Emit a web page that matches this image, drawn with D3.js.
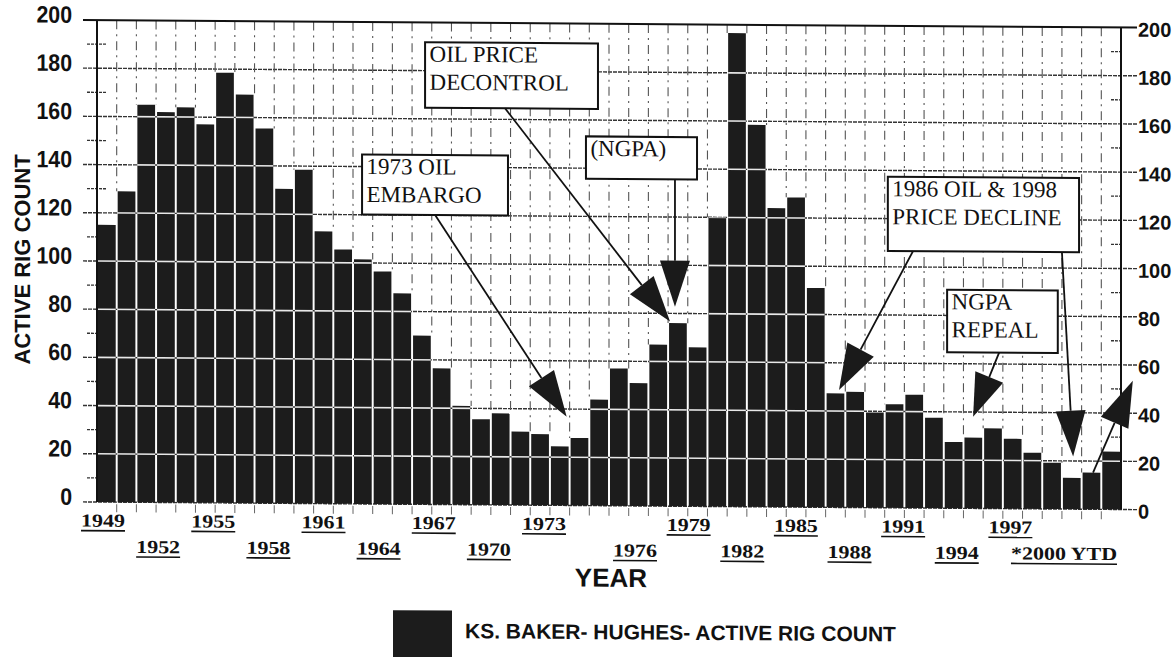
<!DOCTYPE html>
<html>
<head>
<meta charset="utf-8">
<title>KS Baker-Hughes Active Rig Count</title>
<script src="https://d3js.org/d3.v7.min.js"></script>
<style>
  body { margin: 0; background: #fff; }
  svg { display: block; }
  .lbl-left, .lbl-right, .axis-title, .legend-text {
    font-family: "Liberation Sans", Arial, sans-serif;
    font-weight: bold;
    fill: #111;
  }
  .lbl-left { font-size: 22px; }
  .lbl-right { font-size: 20px; }
  .year {
    font-family: "Liberation Serif", "Times New Roman", serif;
    font-weight: bold;
    font-size: 20px;
    fill: #111;
  }
  .note {
    font-family: "Liberation Serif", "Times New Roman", serif;
    font-size: 23px;
    fill: #111;
  }
</style>
</head>
<body>
<svg width="1175" height="657"></svg>
<script>
// data
var years = d3.range(1949, 2001);
var rigCount = [115, 129, 165, 162, 164, 157, 178.5, 169.5, 155.5, 130.5,
                138.5, 113, 105.5, 101.5, 96.5, 87.5, 70, 56.5, 41, 35.5,
                38, 30.5, 29.5, 24.5, 28, 44, 57, 51, 67, 76,
                66, 120, 196.5, 158.5, 124, 128.5, 91, 47.3, 48, 39.5,
                43, 47, 37.5, 27.5, 29.4, 33.3, 29, 23.3, 19.2, 13,
                15.2, 24];
var yTicks = [0, 20, 40, 60, 80, 100, 120, 140, 160, 180, 200];
var yMinor = [10, 30, 50, 70, 90, 110, 130, 150, 170, 190];
var labelYears = [1949, 1952, 1955, 1958, 1961, 1964, 1967, 1970, 1973,
                  1976, 1979, 1982, 1985, 1988, 1991, 1994, 1997, 2000];
var labelText = ["1949", "1952", "1955", "1958", "1961", "1964", "1967", "1970", "1973",
                 "1976", "1979", "1982", "1985", "1988", "1991", "1994", "1997", "*2000 YTD"];
var legendLabel = "KS. BAKER- HUGHES- ACTIVE RIG COUNT";

// callouts, in chart units (year, rig count)
var notes = [
  { x0: 1961.96, x1: 1969.37, top: 145, bottom: 120.1, lines: ["1973 OIL", "EMBARGO"],
    arrows: [[[1965.67, 120.1], [1972.35, 36.8]]] },
  { x0: 1965.16, x1: 1973.94, top: 191.8, bottom: 164.6, lines: ["OIL PRICE", "DECONTROL"],
    arrows: [[[1969.22, 164.6], [1977.6, 76.6]]] },
  { x0: 1973.33, x1: 1978.97, top: 153.2, bottom: 135.6, lines: ["(NGPA)"],
    arrows: [[[1977.85, 135.6], [1977.85, 82.8]]] },
  { x0: 1988.66, x1: 1998.37, top: 137.4, bottom: 106.6, lines: ["1986 OIL & 1998", "PRICE DECLINE"],
    arrows: [[[1989.94, 106.6], [1986.18, 48.7]], [[1997.5, 106.6], [1998.07, 21.8]]] },
  { x0: 1991.67, x1: 1997.29, top: 90.7, bottom: 64.7, lines: ["NGPA", "REPEAL"],
    arrows: [[[1994.31, 64.7], [1992.99, 38.0]]] }
];
var looseArrows = [[[1999.08, 15.2], [2001.1, 53.5]]];

var svg = d3.select("svg");
// the scan is slightly sheared; follow it
var g = svg.append("g").attr("transform", "matrix(1,0.00733,0,1,0,-0.71)");

var left = 97, right = 1121;
var x = d3.scaleBand().domain(years).range([left, right]).paddingInner(0.1).paddingOuter(0.05);
var xs = d3.scaleLinear().domain([1948.5, 2000.5]).range([left, right]);
var y = d3.scaleLinear().domain([0, 200]).range([502, 20]);
var xl = d3.scaleLinear().domain([1949, 1973, 1976, 2000]).range([103, 544, 635, 1064]);

// horizontal grid (dark over paper)
g.append("g").selectAll("line")
  .data(yTicks.filter(function(d) { return d < 200; }))
  .enter().append("line")
    .attr("x1", 83).attr("x2", 1137)
    .attr("y1", function(d) { return y(d); })
    .attr("y2", function(d) { return y(d); })
    .attr("stroke", "#333")
    .attr("stroke-width", 1.4)
    .attr("stroke-dasharray", "4,1");

// minor ticks
g.append("g").selectAll("line")
  .data(yMinor).enter().append("line")
    .attr("x1", 87).attr("x2", 107)
    .attr("y1", function(d) { return y(d); }).attr("y2", function(d) { return y(d); })
    .attr("stroke", "#333").attr("stroke-width", 1.3).attr("stroke-dasharray", "3,1");
g.append("g").selectAll("line")
  .data(yMinor).enter().append("line")
    .attr("x1", 1111).attr("x2", right)
    .attr("y1", function(d) { return y(d); }).attr("y2", function(d) { return y(d); })
    .attr("stroke", "#333").attr("stroke-width", 1.3).attr("stroke-dasharray", "3,1");

// vertical dashed grid between bars
var bounds = years.slice(0, -1).map(function(yr, i) {
  return { yr: yr, top: Math.max(rigCount[i], rigCount[i + 1]) };
});
g.append("g").selectAll("line")
  .data(bounds).enter().append("line")
    .attr("x1", function(d) { return xs(d.yr + 0.5); })
    .attr("x2", function(d) { return xs(d.yr + 0.5); })
    .attr("y1", y(200))
    .attr("y2", function(d) { return y(d.top); })
    .attr("stroke", "#555")
    .attr("stroke-width", 1.1)
    .attr("stroke-dasharray", "9,5,2,5");
g.append("g").selectAll("line")
  .data(bounds).enter().append("line")
    .attr("x1", function(d) { return xs(d.yr + 0.5); })
    .attr("x2", function(d) { return xs(d.yr + 0.5); })
    .attr("y1", y(0) + 2).attr("y2", y(0) + 10)
    .attr("stroke", "#666").attr("stroke-width", 1);

// bars
g.append("g").selectAll("rect")
  .data(rigCount).enter().append("rect")
    .attr("x", function(d, i) { return x(years[i]); })
    .attr("width", x.bandwidth())
    .attr("y", function(d) { return y(d); })
    .attr("height", function(d) { return y(0) - y(d); })
    .attr("fill", "#1c1c1c");

// grid shows white through the bars
var clip = g.append("clipPath").attr("id", "barclip");
clip.selectAll("rect")
  .data(rigCount).enter().append("rect")
    .attr("x", function(d, i) { return x(years[i]); })
    .attr("width", x.bandwidth())
    .attr("y", function(d) { return y(d); })
    .attr("height", function(d) { return y(0) - y(d); });
g.append("g").attr("clip-path", "url(#barclip)")
  .selectAll("line")
  .data(yTicks.filter(function(d) { return d > 0 && d < 200; }))
  .enter().append("line")
    .attr("x1", left).attr("x2", right)
    .attr("y1", function(d) { return y(d); })
    .attr("y2", function(d) { return y(d); })
    .attr("stroke", "#e8e8e8")
    .attr("stroke-width", 1.6);

// frame: top line, both axes
g.append("line").attr("x1", 83).attr("x2", 1137).attr("y1", y(200)).attr("y2", y(200))
  .attr("stroke", "#111").attr("stroke-width", 2);
g.append("line").attr("x1", left).attr("x2", left).attr("y1", y(200)).attr("y2", y(0))
  .attr("stroke", "#111").attr("stroke-width", 2);
g.append("line").attr("x1", right).attr("x2", right).attr("y1", y(200)).attr("y2", y(0))
  .attr("stroke", "#111").attr("stroke-width", 2);

// y labels
g.append("g").selectAll("text")
  .data(yTicks).enter().append("text")
    .attr("class", "lbl-left")
    .attr("transform", function(d) { return "translate(72," + (y(d) + 3) + ") scale(0.97,1.08)"; })
    .attr("text-anchor", "end")
    .text(function(d) { return d; });
g.append("g").selectAll("text")
  .data(yTicks).enter().append("text")
    .attr("class", "lbl-right")
    .attr("x", 1138)
    .attr("y", function(d) { return y(d) + 9; })
    .text(function(d) { return d; });

g.append("text")
  .attr("class", "axis-title")
  .attr("transform", "translate(30,260) rotate(-90)")
  .attr("text-anchor", "middle")
  .style("font-size", "22px")
  .text("ACTIVE RIG COUNT");

// year labels, two staggered rows, underlined
var yl = g.append("g").selectAll("g")
  .data(labelYears).enter().append("g")
    .attr("transform", function(d, i) {
      return "translate(" + xl(d) + "," + (i % 2 === 0 ? 526.7 : 552.7) + ")";
    });
yl.append("text")
  .attr("class", "year")
  .attr("text-anchor", "middle")
  .attr("transform", "scale(1.1,0.92)")
  .text(function(d, i) { return labelText[i]; });
yl.each(function() {
  var t = d3.select(this).select("text");
  var w = t.node().getComputedTextLength() * 1.1;
  d3.select(this).append("line")
    .attr("x1", -w / 2).attr("x2", w / 2)
    .attr("y1", 4).attr("y2", 4)
    .attr("stroke", "#111").attr("stroke-width", 1.6);
});

g.append("text")
  .attr("class", "axis-title")
  .attr("x", 611).attr("y", 583)
  .attr("text-anchor", "middle")
  .style("font-size", "26px")
  .text("YEAR");

// legend
g.append("rect")
  .attr("x", 393).attr("y", 608).attr("width", 59).attr("height", 55)
  .attr("fill", "#1c1c1c");
g.append("text")
  .attr("class", "legend-text")
  .attr("x", 465).attr("y", 635.5)
  .style("font-size", "21px")
  .text(legendLabel);

// callouts
function arrow(sel, a) {
  var x1 = xs(a[0][0]), y1 = y(a[0][1]), x2 = xs(a[1][0]), y2 = y(a[1][1]);
  var dx = x2 - x1, dy = y2 - y1, len = Math.sqrt(dx * dx + dy * dy);
  var ux = dx / len, uy = dy / len, L = Math.min(46, len * 0.62), W = 15;
  var bx = x2 - ux * L, by = y2 - uy * L;
  sel.append("line")
    .attr("x1", x1).attr("y1", y1).attr("x2", bx).attr("y2", by)
    .attr("stroke", "#111").attr("stroke-width", 1.8);
  sel.append("polygon")
    .attr("points", [[x2, y2], [bx - uy * W, by + ux * W], [bx + uy * W, by - ux * W]].join(" "))
    .attr("fill", "#1a1a1a");
}

var ng = g.append("g");
notes.forEach(function(n) {
  var bx = xs(n.x0), by = y(n.top);
  ng.append("rect")
    .attr("x", bx).attr("y", by)
    .attr("width", xs(n.x1) - bx)
    .attr("height", y(n.bottom) - by)
    .attr("fill", "#fff")
    .attr("stroke", "#111")
    .attr("stroke-width", 2);
  n.lines.forEach(function(s, k) {
    ng.append("text")
      .attr("class", "note")
      .attr("x", bx + 4.5)
      .attr("y", by + 19.5 + k * 28)
      .text(s);
  });
  n.arrows.forEach(function(a) { arrow(ng, a); });
});
looseArrows.forEach(function(a) { arrow(ng, a); });
</script>
</body>
</html>
